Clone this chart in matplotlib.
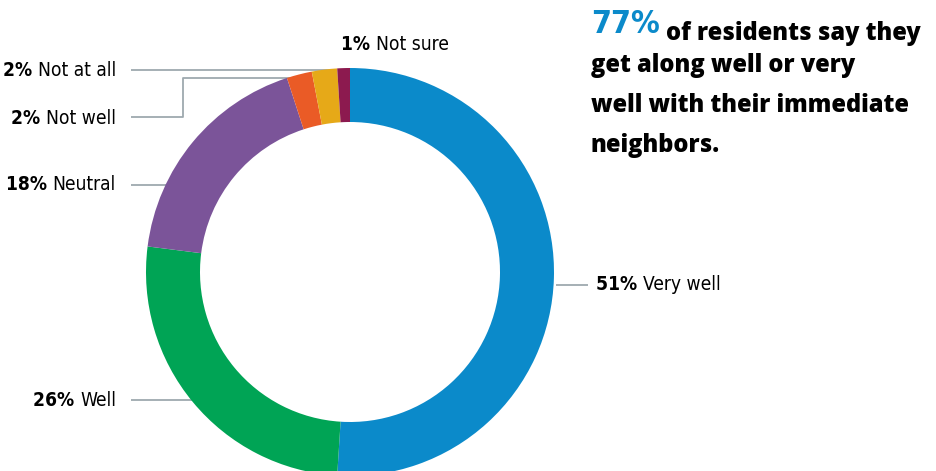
import matplotlib.pyplot as plt

# Survey shares (clockwise from the top)
categories = ["Very well", "Well", "Neutral", "Not well", "Not at all", "Not sure"]
shares = [51, 26, 18, 2, 2, 1]
colors = ["#0B8ACA", "#00A455", "#7B5499", "#EA5B26", "#E6A918", "#8C1A4F"]

headline_pct = "77%"
headline_lines = ["of residents say they", "get along well or very",
                  "well with their immediate", "neighbors."]

W, H = 936, 471
LINE = "#9EA9AF"
NARROW = dict(family="DejaVu Sans", fontstretch="condensed")


def Y(y):
    # pixel row (top-down) -> data y
    return H - y


fig = plt.figure(figsize=(W / 100, H / 100), dpi=100)
ax = fig.add_axes([0, 0, 1, 1])

ax.pie(shares, colors=colors, startangle=90, counterclock=False,
       center=(350, Y(272)), radius=204,
       wedgeprops=dict(width=54, linewidth=0), frame=True)
ax.set_xlim(0, W)
ax.set_ylim(0, H)
ax.set_aspect("equal")
ax.axis("off")

# leader lines, drawn under the ring
leaders = [
    [(131, 70), (335, 70)],
    [(131, 117), (183, 117), (183, 78), (305, 78)],
    [(131, 185), (175, 185)],
    [(131, 400), (195, 400)],
    [(556, 285), (588, 285)],
]
for pts in leaders:
    ax.plot([p[0] for p in pts], [Y(p[1]) for p in pts], color=LINE, lw=1.3,
            zorder=0, solid_capstyle="butt")


def label(x, y, pct, name, side):
    if side == "right":
        t = ax.text(x, Y(y), name, ha="right", va="center", fontsize=13.8,
                    **NARROW)
        ax.annotate(pct + " ", xy=(0, 0.5), xycoords=t, ha="right", va="center",
                    fontsize=13.8, fontweight="bold", **NARROW)
    else:
        t = ax.text(x, Y(y), pct + " ", ha="left", va="center", fontsize=13.8,
                    fontweight="bold", **NARROW)
        ax.annotate(name, xy=(1, 0.5), xycoords=t, ha="left", va="center",
                    fontsize=13.8, **NARROW)


label(116, 70, "2%", categories[4], "right")
label(116, 118, "2%", categories[3], "right")
label(116, 184, "18%", categories[2], "right")
label(116, 400, "26%", categories[1], "right")
label(596, 284, "51%", categories[0], "left")
label(341, 44, "1%", categories[5], "left")

# headline text
t0 = ax.text(591, Y(33), headline_pct, ha="left", va="baseline", fontsize=23,
             fontweight="bold", color="#0B8ACA", **NARROW)
ax.annotate(headline_lines[0], xy=(1, 0), xycoords=t0, xytext=(6, 0),
            textcoords="offset pixels", ha="left", va="baseline",
            fontsize=17, fontweight=800, family="Open Sans")
for i, line in enumerate(headline_lines[1:]):
    ax.text(591, Y(72 + i * 40), line, ha="left", va="baseline", fontsize=17,
            fontweight=800, family="Open Sans")

fig.savefig("out.png", dpi=100)
